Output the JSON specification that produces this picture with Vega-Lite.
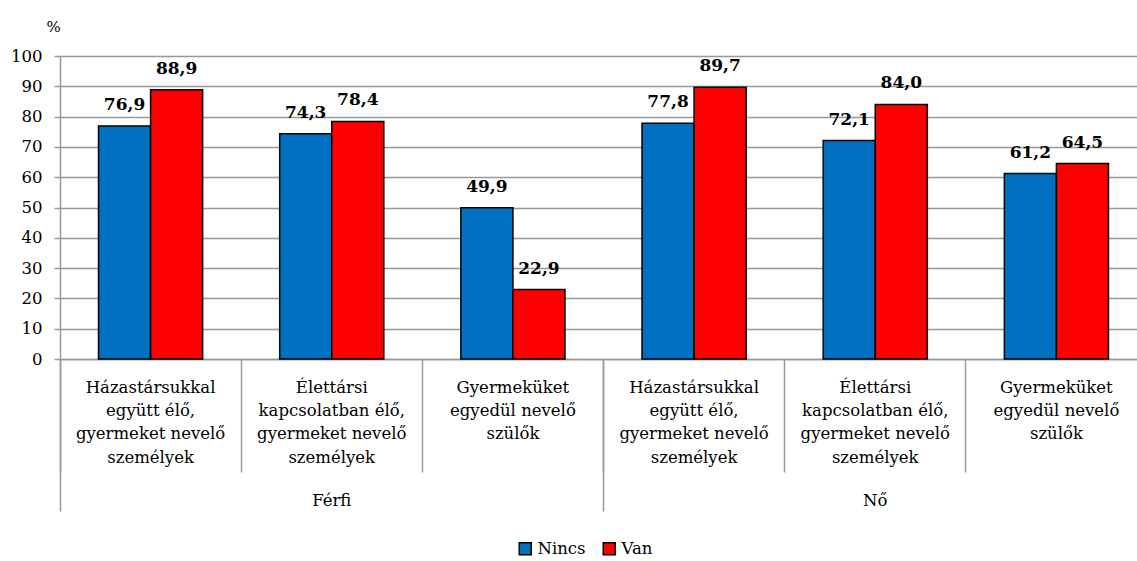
{
  "$schema": "https://vega.github.io/schema/vega-lite/v6.json",
  "width": 1077,
  "height": 303,
  "autosize": {"type": "none"},
  "padding": {"left": 60, "top": 56, "right": 0, "bottom": 202},
  "config": {
    "view": {"stroke": null},
    "font": "DejaVu Serif",
    "locale": {"number": {"decimal": ",", "thousands": " ", "grouping": [3], "currency": ["", ""]}}
  },
  "layer": [
    {
      "data": {
        "values": [
          {"grp": "Férfi|Házastársukkal|együtt élő,|gyermeket nevelő|személyek", "series": "Nincs", "value": 76.9},
          {"grp": "Férfi|Házastársukkal|együtt élő,|gyermeket nevelő|személyek", "series": "Van", "value": 88.9},
          {"grp": "Férfi|Élettársi|kapcsolatban élő,|gyermeket nevelő|személyek", "series": "Nincs", "value": 74.3},
          {"grp": "Férfi|Élettársi|kapcsolatban élő,|gyermeket nevelő|személyek", "series": "Van", "value": 78.4},
          {"grp": "Férfi|Gyermeküket|egyedül nevelő|szülők", "series": "Nincs", "value": 49.9},
          {"grp": "Férfi|Gyermeküket|egyedül nevelő|szülők", "series": "Van", "value": 22.9},
          {"grp": "Nő|Házastársukkal|együtt élő,|gyermeket nevelő|személyek", "series": "Nincs", "value": 77.8},
          {"grp": "Nő|Házastársukkal|együtt élő,|gyermeket nevelő|személyek", "series": "Van", "value": 89.7},
          {"grp": "Nő|Élettársi|kapcsolatban élő,|gyermeket nevelő|személyek", "series": "Nincs", "value": 72.1},
          {"grp": "Nő|Élettársi|kapcsolatban élő,|gyermeket nevelő|személyek", "series": "Van", "value": 84.0},
          {"grp": "Nő|Gyermeküket|egyedül nevelő|szülők", "series": "Nincs", "value": 61.2},
          {"grp": "Nő|Gyermeküket|egyedül nevelő|szülők", "series": "Van", "value": 64.5}
        ]
      },
      "encoding": {
        "x": {
          "field": "grp", "type": "nominal", "sort": null,
          "scale": {"range": [0, 1087], "paddingInner": 0, "paddingOuter": 0},
          "axis": {
            "title": null, "orient": "bottom",
            "domainColor": "#999", "domainWidth": 1.5,
            "tickColor": "#999", "tickWidth": 1.5, "tickSize": 113, "bandPosition": 0,
            "labelExpr": "slice(split(datum.label, '|'), 1)",
            "labelAngle": 0, "labelPadding": -92.7, "labelLineHeight": 23.3,
            "labelFont": "DejaVu Serif", "labelFontSize": 16.5, "labelColor": "black",
            "labelOverlap": false, "labelBound": false, "labelFlush": false, "labelLimit": 400,
            "grid": false
          }
        },
        "xOffset": {
          "field": "series", "type": "nominal", "sort": ["Nincs", "Van"],
          "scale": {"paddingInner": 0, "paddingOuter": 0.74}
        },
        "y": {
          "field": "value", "type": "quantitative",
          "scale": {"domain": [0, 100], "nice": false},
          "axis": {
            "title": "%", "titleAngle": 0, "titleX": -7, "titleY": -25,
            "titleAlign": "center", "titleBaseline": "alphabetic",
            "titleFont": "DejaVu Serif", "titleFontSize": 15, "titleFontWeight": "normal", "titleColor": "black",
            "values": [0, 10, 20, 30, 40, 50, 60, 70, 80, 90, 100],
            "grid": true, "gridColor": "#999", "gridWidth": 1.5,
            "domainColor": "#999", "domainWidth": 1.5,
            "tickColor": "#999", "tickWidth": 1.5, "tickSize": 6,
            "labelPadding": 12, "labelFont": "DejaVu Serif", "labelFontSize": 16.5, "labelColor": "black"
          }
        }
      },
      "layer": [
        {
          "mark": {"type": "bar", "stroke": "black", "strokeWidth": 1.5},
          "encoding": {
            "color": {
              "field": "series", "type": "nominal",
              "scale": {"domain": ["Nincs", "Van"], "range": ["#0070C0", "#FF0000"]},
              "legend": {
                "orient": "none", "legendX": 457, "legendY": 484, "direction": "horizontal",
                "title": null, "symbolType": "square", "symbolSize": 144,
                "symbolStrokeColor": "black", "symbolStrokeWidth": 1.5, "symbolOpacity": 1,
                "labelFont": "DejaVu Serif", "labelFontSize": 16.5, "labelColor": "black",
                "columnPadding": 14, "labelOffset": 4, "padding": 0
              }
            }
          }
        },
        {
          "mark": {"type": "text", "dy": -16, "baseline": "alphabetic", "fontWeight": "bold", "fontSize": 17, "font": "DejaVu Serif", "color": "black"},
          "encoding": {"text": {"field": "value", "type": "quantitative", "format": ".1f"}}
        }
      ]
    },
    {
      "data": {"values": [{"gender": "Férfi"}, {"gender": "Nő"}]},
      "mark": {"type": "rule", "opacity": 0},
      "encoding": {
        "x": {
          "field": "gender", "type": "nominal", "sort": null,
          "scale": {"range": [0, 1087], "paddingInner": 0, "paddingOuter": 0},
          "axis": {
            "title": null, "orient": "bottom", "domain": false,
            "tickColor": "#999", "tickWidth": 1.5, "tickSize": 152, "bandPosition": 0,
            "labelAngle": 0, "labelPadding": -19,
            "labelFont": "DejaVu Serif", "labelFontSize": 16.5, "labelColor": "black",
            "labelOverlap": false, "labelBound": false, "labelFlush": false
          }
        }
      }
    }
  ],
  "resolve": {"scale": {"x": "independent"}, "axis": {"x": "independent"}}
}
